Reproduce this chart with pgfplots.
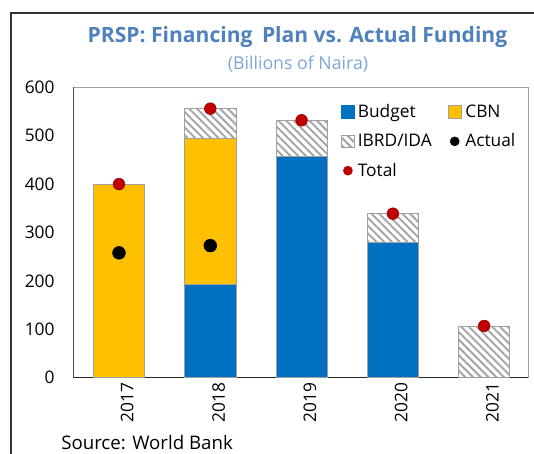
\documentclass[border=0pt]{standalone}
\usepackage{pgfplots}
\pgfplotsset{compat=1.18}
\usetikzlibrary{patterns.meta}
\usepackage{fontspec}
\setmainfont{Open Sans}
\definecolor{budget}{HTML}{0070C0}
\definecolor{cbn}{HTML}{FFC000}
\definecolor{hatchc}{HTML}{A6A6A6}
\definecolor{barborder}{HTML}{A0A0A0}
\definecolor{tot}{HTML}{C00000}
\definecolor{ttl}{HTML}{4F81BD}
\definecolor{subc}{HTML}{7EA6D8}
\pgfplotsset{common/.style={scale only axis, width=341pt, height=217.8pt,
  at={(55pt,-283.3pt)}, anchor=south west,
  xmin=-0.5, xmax=4.48, ymin=0, ymax=600}}
\tikzset{hatchfill/.style={pattern={Lines[angle=-45,distance=4.1pt,line width=1.5pt]}, pattern color=hatchc}}
\begin{document}
\begin{tikzpicture}
\useasboundingbox (0pt,0pt) rectangle (400.5pt,-339.75pt);
\draw[black!80, line width=0.8pt] (8.25pt,-360pt) -- (8.25pt,-9.75pt) -- (420pt,-9.75pt);
\begin{axis}[common,
  ybar stacked, bar width=0.56,
  axis line style={draw=barborder},
  xtick={0,1,2,3,4}, xticklabels={2017,2018,2019,2020,2021},
  ytick={0,100,...,600},
  tick style={draw=none},
  /pgf/number format/assume math mode=true,
  ticklabel style={font=\fontsize{13}{15}\selectfont},
  yticklabel style={xshift=-10.6pt},
  xticklabel style={rotate=90, anchor=east, yshift=-6.2pt},
  ]
\addplot[fill=budget, draw=barborder] coordinates {(0,0) (1,193) (2,457) (3,280) (4,0)};
\addplot[fill=cbn, draw=barborder] coordinates {(0,400) (1,301) (2,0) (3,0) (4,0)};
\addplot[hatchfill, draw=barborder] coordinates {(0,0) (1,62) (2,75) (3,59) (4,107)};
\draw[black!85, line width=0.8pt] (rel axis cs:0,1) -- (rel axis cs:0,0) -- (rel axis cs:1,0);
\end{axis}
\begin{axis}[common, hide axis,
  legend columns=2,
  legend style={draw=none, fill=none, at={(rel axis cs:0.58,0.958)}, anchor=north west,
    font=\fontsize{13}{15}\selectfont, row sep=7.6pt,
    nodes={inner sep=1.5pt, anchor=west}},
  ]
\addlegendimage{legend image code/.code={\fill[budget] (0pt,-4.75pt) rectangle (9.5pt,4.75pt);}}
\addlegendentry{\hspace{1pt}Budget}
\addlegendimage{legend image code/.code={\filldraw[fill=cbn, draw=barborder] (0pt,-4.75pt) rectangle (9.5pt,4.75pt);}}
\addlegendentry{\hspace{1.5pt}CBN}
\addlegendimage{legend image code/.code={\filldraw[hatchfill, draw=barborder] (0pt,-4.75pt) rectangle (9.5pt,4.75pt);}}
\addlegendentry{\hspace{1pt}IBRD/IDA\rule{10.8pt}{0pt}}
\addlegendimage{legend image code/.code={\fill[black] (4.75pt,0pt) circle (3.4pt);}}
\addlegendentry{\hspace{1.5pt}Actual}
\addlegendimage{legend image code/.code={\fill[tot] (4.75pt,0pt) circle (3.4pt);}}
\addlegendentry{\hspace{1pt}Total}
\addplot[only marks, mark=*, mark size=4.8pt, black] coordinates {(0,258) (1,273)};
\addplot[only marks, mark=*, mark size=4.4pt, draw=tot!80!black, fill=tot] coordinates {(0,400) (1,556) (2,532) (3,339) (4,107)};
\end{axis}
\node[font=\bfseries\fontsize{15.8}{18}\selectfont, text=ttl] at (223.1pt,-27.75pt) {PRSP: Financing\hspace{0.45em}Plan vs. Actual Funding};
\node[font=\fontsize{13.3}{15}\selectfont, text=subc] at (223.5pt,-48pt) {(Billions of Naira)};
\node[font=\fontsize{14}{16}\selectfont, anchor=base west, inner sep=0pt] at (45.75pt,-336.75pt) {Source: World Bank};
\end{tikzpicture}
\end{document}
